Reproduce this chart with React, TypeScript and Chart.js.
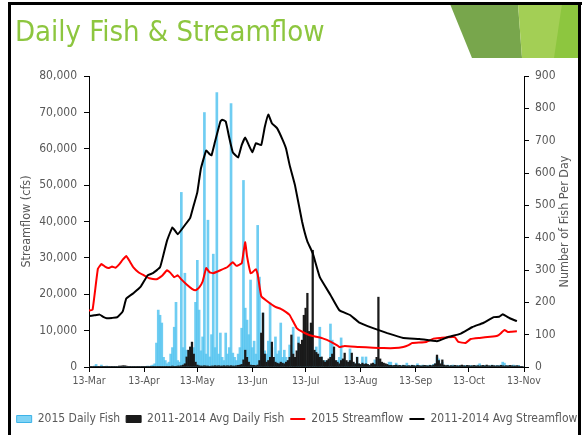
import React, { useEffect, useRef } from "react";
import { Chart, registerables } from "chart.js";

Chart.register(...registerables);

const FONT = "'DejaVu Sans Condensed', 'DejaVu Sans', sans-serif";
const TEXT_COLOR = "#595959";

const titleText = "Daily Fish & Streamflow";
const leftTitle = "Streamflow (cfs)";
const rightTitle = "Number of Fish Per Day";

// x axis: day offsets from 13-Mar
const monthDays = [0, 31, 61, 92, 122, 153, 184, 214, 245];
const monthLabels = ["13-Mar", "13-Apr", "13-May", "13-Jun", "13-Jul", "13-Aug", "13-Sep", "13-Oct", "13-Nov"];

// 2015 daily fish, one value per day from 13-Mar (day 0) to 13-Nov (day 245)
const fish2015 = [
  0, 2, 0, 3, 8, 2, 1, 6, 1, 0,
  3, 1, 0, 1, 0, 2, 0, 1, 0, 0,
  1, 0, 0, 2, 0, 1, 0, 0, 2, 0,
  1, 0, 2, 3, 1, 4, 6, 10, 74, 176,
  160, 136, 30, 20, 10, 15, 40, 60, 123, 200,
  20, 15, 540, 60, 290, 52, 30, 25, 40, 60,
  200, 330, 176, 50, 93, 787, 40, 454, 31, 100,
  349, 60, 849, 40, 105, 30, 20, 105, 40, 60,
  815, 43, 30, 20, 40, 60, 120, 577, 182, 145,
  100, 269, 60, 80, 40, 438, 278, 60, 167, 50,
  40, 80, 198, 60, 30, 93, 40, 50, 136, 30,
  52, 30, 20, 68, 25, 123, 30, 20, 93, 20,
  15, 105, 20, 15, 20, 10, 15, 20, 62, 20,
  123, 30, 15, 20, 15, 20, 133, 83, 20, 15,
  20, 30, 90, 20, 15, 10, 15, 56, 15, 10,
  10, 31, 10, 8, 31, 10, 31, 8, 6, 5,
  8, 22, 6, 5, 4, 6, 5, 4, 6, 15,
  15, 5, 4, 12, 6, 4, 5, 6, 4, 12,
  5, 4, 6, 5, 4, 10, 5, 4, 6, 4,
  5, 4, 6, 5, 8, 10, 31, 25, 6, 15,
  5, 4, 6, 4, 5, 6, 4, 3, 5, 4,
  3, 4, 5, 3, 4, 5, 3, 4, 3, 6,
  10, 4, 3, 5, 4, 3, 4, 6, 3, 4,
  5, 4, 6, 15, 12, 4, 5, 3, 4, 6,
  4, 3, 5, 2, 0, 0,
];

// 2011-2014 average daily fish
const fishAvg = [
  1, 1, 1, 1, 1, 1, 1, 1, 1, 1,
  1, 1, 1, 2, 2, 2, 2, 3, 3, 4,
  4, 3, 2, 2, 1, 1, 2, 2, 1, 2,
  1, 2, 2, 1, 2, 2, 1, 2, 2, 1,
  2, 2, 2, 1, 2, 2, 2, 3, 2, 2,
  3, 3, 4, 6, 10, 31, 52, 62, 77, 40,
  15, 6, 4, 3, 3, 4, 3, 3, 2, 3,
  3, 4, 3, 4, 3, 3, 4, 3, 4, 3,
  4, 3, 3, 4, 5, 6, 8, 22, 52, 30,
  15, 6, 5, 5, 4, 6, 20, 105, 167, 40,
  15, 20, 30, 77, 30, 15, 12, 10, 15, 12,
  10, 15, 20, 30, 99, 40, 30, 50, 74, 70,
  83, 160, 182, 228, 110, 136, 361, 52, 45, 40,
  30, 31, 20, 15, 20, 25, 30, 40, 62, 20,
  15, 10, 20, 25, 43, 20, 15, 20, 43, 15,
  10, 30, 10, 8, 12, 8, 10, 8, 5, 10,
  12, 8, 30, 216, 25, 15, 12, 10, 8, 5,
  5, 4, 5, 6, 4, 5, 3, 5, 4, 3,
  4, 3, 5, 4, 3, 5, 4, 3, 4, 5,
  4, 3, 5, 4, 6, 10, 37, 20, 10, 22,
  6, 4, 5, 3, 4, 3, 5, 4, 3, 4,
  6, 4, 3, 5, 4, 3, 4, 5, 3, 4,
  3, 4, 5, 3, 6, 4, 3, 5, 4, 3,
  4, 3, 5, 4, 3, 4, 3, 5, 4, 3,
  3, 4, 3, 2, 2, 0,
];

// 2015 streamflow (cfs), read at day offsets
const flow2015Days = [
  0, 2, 5, 7, 9, 11, 13, 15, 17, 19, 21, 23, 25, 28, 31, 34, 38, 41, 44, 46,
  48, 50, 52, 55, 58, 60, 62, 64, 66, 68, 70, 74, 78, 81, 83, 86, 87, 88, 89, 91,
  92, 94, 95, 97, 100, 105, 108, 111, 113, 115, 117, 120, 124, 128, 132, 136, 140, 141, 144, 152,
  160, 166, 172, 177, 180, 182, 190, 194, 198, 202, 206, 208, 212, 215, 220, 226, 230, 232, 234, 236,
  238, 241,
];
const flow2015 = [
  15500, 15700, 27000, 28300, 27600, 27200, 27600, 27300, 28200, 29500, 30500, 29000, 27400, 26000, 25200, 24400, 24100, 25000, 26600, 25800,
  24700, 25200, 24100, 22700, 21500, 21100, 21800, 23500, 27200, 26000, 25800, 26600, 27500, 28800, 27800, 28500, 31500, 34300, 30500, 25800,
  26000, 26900, 25500, 19500, 18200, 16500, 16000, 15100, 14300, 12500, 10700, 9700, 8800, 8300, 7800, 7000, 5900, 5500, 5800, 5500,
  5300, 5200, 5200, 5500, 6000, 6600, 6900, 7800, 8000, 8200, 8200, 6900, 6600, 7700, 8000, 8300, 8600, 9300, 10200, 9600,
  9700, 9800,
];

// 2011-2014 average streamflow (cfs)
const flowAvgDays = [
  0, 3, 6, 8, 10, 13, 16, 19, 21, 25, 29, 33, 36, 40, 42, 44, 47, 50, 54, 57,
  59, 61, 63, 66, 68, 69, 71, 74, 75, 77, 79, 81, 84, 86, 88, 90, 92, 94, 97, 99,
  101, 103, 106, 109, 111, 113, 116, 120, 123, 126, 130, 136, 141, 147, 152, 160, 168, 177, 186, 196,
  202, 209, 216, 222, 228, 231, 233, 237, 241,
];
const flowAvg = [
  14000, 14200, 14400, 13800, 13400, 13500, 13700, 15300, 18800, 20300, 22000, 25200, 25800, 27400, 31000, 34800, 38400, 36500, 39000, 41000,
  44500, 48000, 54500, 59500, 58500, 58200, 62000, 67500, 68000, 67500, 63000, 59000, 57600, 61000, 63100, 61000, 59000, 61500, 61000, 66000,
  69400, 67000, 65600, 62500, 60000, 55500, 50000, 40000, 34500, 31300, 24700, 19800, 15600, 14300, 12300, 10700, 9300, 8000, 7700, 7100,
  8200, 9100, 11000, 12100, 13700, 13800, 14500, 13400, 12600,
];

const seriesLabels = ["2015 Daily Fish", "2011-2014 Avg Daily Fish", "2015 Streamflow", "2011-2014 Avg Streamflow"];

export default function App() {
  const canvasRef = useRef<HTMLCanvasElement | null>(null);

  useEffect(() => {
    if (!canvasRef.current) return;
    const rightTitlePlugin = {
      id: "rightTitle",
      afterDraw(chart: any) {
        const { ctx, chartArea } = chart;
        ctx.save();
        ctx.translate(565, (chartArea.top + chartArea.bottom) / 2);
        ctx.rotate(-Math.PI / 2);
        ctx.font = `12.5px ${FONT}`;
        ctx.fillStyle = TEXT_COLOR;
        ctx.textAlign = "center";
        ctx.textBaseline = "middle";
        ctx.fillText(rightTitle, 0, 0);
        ctx.restore();
      },
    };

    const legendStyles = [
      { fill: "#7fd3f5", stroke: "#3db3e8", lw: 1, ps: "rect" },
      { fill: "#1a1a1a", stroke: "#1a1a1a", lw: 1, ps: "rect" },
      { fill: "#ff0000", stroke: "#ff0000", lw: 2, ps: "line" },
      { fill: "#000000", stroke: "#000000", lw: 2, ps: "line" },
    ];

    const chart = new Chart(canvasRef.current, {
      type: "bar",
      data: {
        datasets: [
          {
            type: "bar",
            label: seriesLabels[0],
            data: fish2015.map((v, i) => ({ x: i, y: v })),
            yAxisID: "y1",
            xAxisID: "x",
            backgroundColor: "rgba(86,196,240,0.85)",
            borderWidth: 0,
            barThickness: 2,
            grouped: false,
            order: 3,
          } as any,
          {
            type: "bar",
            label: seriesLabels[1],
            data: fishAvg.map((v, i) => ({ x: i, y: v })),
            yAxisID: "y1",
            xAxisID: "x",
            backgroundColor: "#1a1a1a",
            borderWidth: 0,
            barThickness: 1.6,
            grouped: false,
            order: 2,
          } as any,
          {
            type: "line",
            label: seriesLabels[2],
            data: flow2015Days.map((d, i) => ({ x: d, y: flow2015[i] })),
            yAxisID: "y",
            xAxisID: "x",
            borderColor: "#ff0000",
            borderWidth: 2,
            pointRadius: 0,
            tension: 0.1,
            fill: false,
            order: 1,
          } as any,
          {
            type: "line",
            label: seriesLabels[3],
            data: flowAvgDays.map((d, i) => ({ x: d, y: flowAvg[i] })),
            yAxisID: "y",
            xAxisID: "x",
            borderColor: "#000000",
            borderWidth: 2,
            pointRadius: 0,
            tension: 0.1,
            fill: false,
            order: 0,
          } as any,
        ],
      },
      options: {
        responsive: false,
        animation: false,
        events: [],
        layout: { padding: { left: 8, right: 0, top: 76, bottom: 0 } },
        plugins: {
          tooltip: { enabled: false },
          title: { display: false },
          legend: {
            display: true,
            position: "bottom",
            labels: {
              usePointStyle: true,
              pointStyleWidth: 15,
              boxHeight: 7,
              padding: 6,
              color: TEXT_COLOR,
              font: { family: FONT, size: 12 },
              generateLabels: (c: any) =>
                c.data.datasets.map((ds: any, i: number) => ({
                  text: ds.label,
                  fillStyle: legendStyles[i].fill,
                  strokeStyle: legendStyles[i].stroke,
                  lineWidth: legendStyles[i].lw,
                  pointStyle: legendStyles[i].ps,
                  hidden: false,
                  datasetIndex: i,
                  fontColor: TEXT_COLOR,
                })),
            },
          },
        },
        scales: {
          x: {
            type: "linear",
            min: 0,
            max: 245,
            offset: false,
            grid: { display: true, drawOnChartArea: false, drawTicks: true, tickLength: 5, color: "#000", offset: false },
            border: { display: true, color: "#000", width: 1 },
            afterBuildTicks: (s: any) => {
              s.ticks = monthDays.map((v) => ({ value: v }));
            },
            afterFit: (s: any) => {
              s.height = 40;
            },
            ticks: {
              autoSkip: false,
              maxRotation: 0,
              padding: 3,
              color: TEXT_COLOR,
              font: { family: FONT, size: 10.5 },
              callback: (v: any) => {
                const k = monthDays.indexOf(Number(v));
                return k >= 0 ? monthLabels[k] : "";
              },
            },
          },
          y: {
            type: "linear",
            position: "left",
            min: 0,
            max: 80000,
            grid: { display: true, drawOnChartArea: false, drawTicks: true, tickLength: 5, color: "#000" },
            border: { display: true, color: "#000", width: 1 },
            afterFit: (s: any) => {
              s.width = 81;
            },
            ticks: {
              stepSize: 10000,
              padding: 7,
              color: TEXT_COLOR,
              font: { family: FONT, size: 12 },
              callback: (v: any) => Number(v).toLocaleString("en-US"),
            },
            title: {
              display: true,
              text: leftTitle,
              color: TEXT_COLOR,
              font: { family: FONT, size: 12.5 },
              padding: { top: 11, bottom: 0 },
            },
          },
          y1: {
            type: "linear",
            position: "right",
            min: 0,
            max: 900,
            grid: { display: true, drawOnChartArea: false, drawTicks: true, tickLength: 5, color: "#000" },
            border: { display: true, color: "#000", width: 1 },
            afterFit: (s: any) => {
              s.width = 62;
            },
            ticks: {
              stepSize: 100,
              padding: 6,
              color: TEXT_COLOR,
              font: { family: FONT, size: 12 },
            },
          },
        },
      } as any,
      plugins: [rightTitlePlugin],
    });
    return () => chart.destroy();
  }, []);

  return (
    <div style={{ position: "absolute", left: 0, top: 0, width: 586, height: 435, background: "#fff", overflow: "hidden" }}>
      <canvas ref={canvasRef} width={586} height={435} style={{ position: "absolute", left: 0, top: 0, width: 586, height: 435 }} />
      <div style={{ position: "absolute", left: 450, top: 4, width: 130, height: 54, background: "#78a64c", clipPath: "polygon(0px 0px, 68px 0px, 72px 54px, 22px 54px)" }} />
      <div style={{ position: "absolute", left: 450, top: 4, width: 130, height: 54, background: "#a3cf55", clipPath: "polygon(68px 0px, 130px 0px, 130px 54px, 72px 54px)" }} />
      <div style={{ position: "absolute", left: 450, top: 4, width: 130, height: 54, background: "#8dc63f", clipPath: "polygon(112px 0px, 130px 0px, 130px 54px, 104px 54px)" }} />
      <div style={{ position: "absolute", left: 8, top: 2, width: 574, height: 3, background: "#000" }} />
      <div style={{ position: "absolute", left: 8, top: 2, width: 3, height: 433, background: "#000" }} />
      <div style={{ position: "absolute", left: 578, top: 2, width: 3, height: 433, background: "#000" }} />
      <div style={{ position: "absolute", left: 15, top: 17, fontFamily: FONT, fontSize: 29, lineHeight: "29px", color: "#8dc63f", whiteSpace: "nowrap" }}>
        {titleText}
      </div>
    </div>
  );
}
